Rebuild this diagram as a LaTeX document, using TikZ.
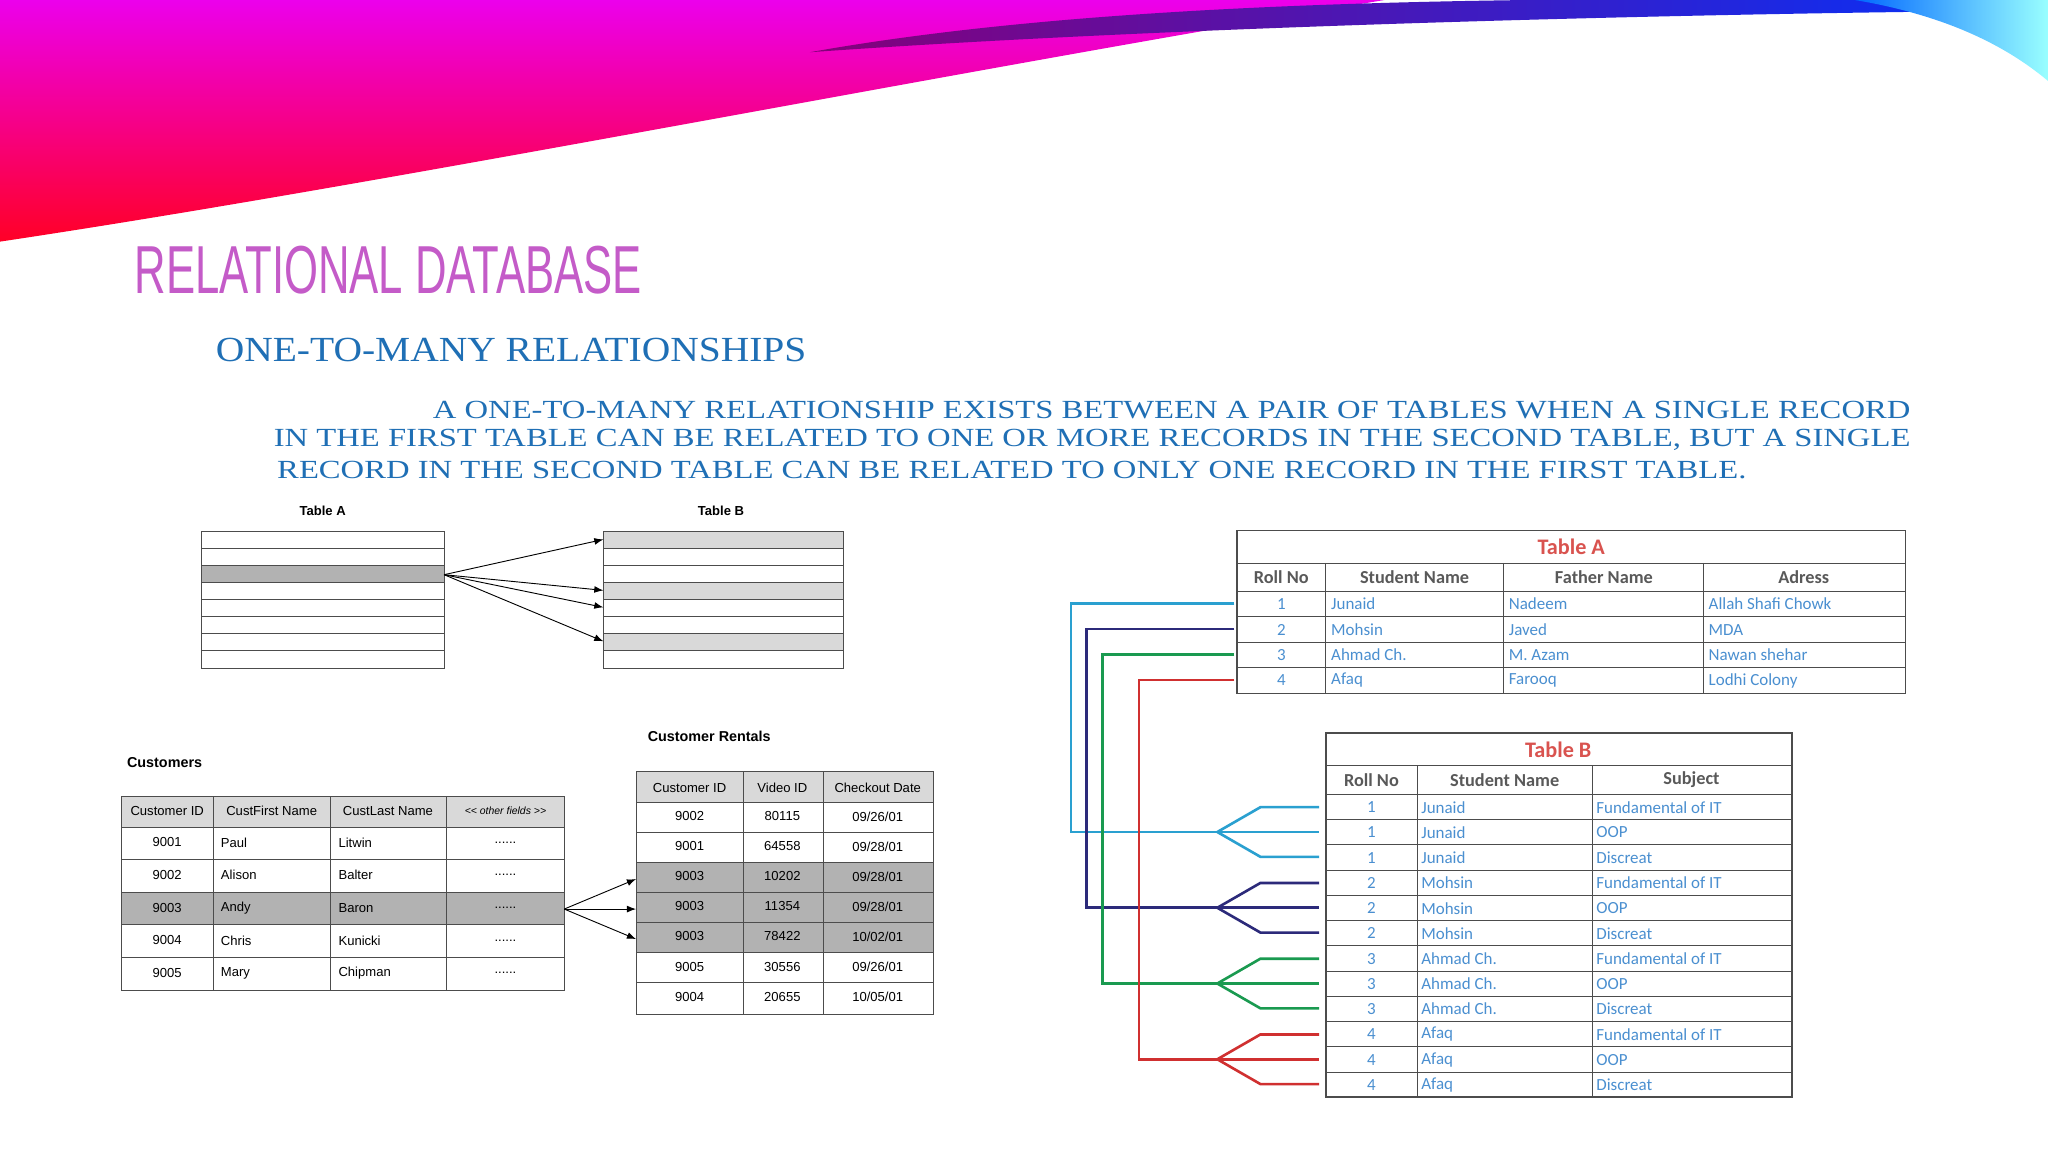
\documentclass[tikz,border=0pt]{standalone}
\usepackage{fontspec}
\setmainfont{Liberation Serif}
\newfontfamily\tabfont{Liberation Sans}
\newfontfamily\calfont{Carlito}
\usetikzlibrary{arrows.meta}
\definecolor{titlepink}{HTML}{C45BC8}
\definecolor{textblue}{HTML}{1F6FB5}
\definecolor{cellblue}{HTML}{4A8FD0}
\definecolor{headred}{HTML}{D9534F}
\definecolor{linkA}{HTML}{2AA0D0}
\definecolor{linkB}{HTML}{2C2A7A}
\definecolor{linkC}{HTML}{1A9A50}
\definecolor{linkD}{HTML}{D03030}
\tikzset{
  grid/.style={draw=black!70, line width=0.8pt},
  shade row/.style={fill=black!15},
  dark row/.style={fill=black!30},
  rel/.style={-{Latex[length=7pt]}, line width=0.7pt},
  cell/.style={font=\tabfont\fontsize{10}{12}\selectfont, inner sep=0pt},
  rcell/.style={font=\calfont\fontsize{13}{15}\selectfont, text=cellblue, inner sep=0pt, anchor=west},
  rhead/.style={font=\calfont\bfseries\fontsize{14}{16}\selectfont, text=black!65, inner sep=0pt},
  para/.style={text=textblue, inner sep=0pt, font=\fontsize{20}{22}\selectfont, xscale=1.25},
  link/.style={line width=2pt}
}
\begin{document}
\begin{tikzpicture}[x=1pt, y=-1pt]
\useasboundingbox (0,0) rectangle (1568,882);
\fill[white] (0,0) rectangle (1568,882);

% swoosh at the top
\shade[top color=magenta!85!violet, bottom color=red!85!magenta]
  (0,0) -- (1060,0) .. controls (700,60) and (300,140) .. (0,185) -- cycle;
\shade[left color=purple!70!blue, right color=blue!80!cyan]
  (620,40) .. controls (900,-10) and (1300,0) .. (1568,0) -- (1568,8)
  .. controls (1300,10) and (900,20) .. (620,40);
\shade[left color=blue!60!cyan, right color=cyan!40]
  (1420,0) -- (1568,0) -- (1568,62) .. controls (1530,30) and (1480,10) .. (1420,0);

% titles
\node[text=titlepink, anchor=west, inner sep=0pt,
  font=\tabfont\fontsize{52}{56}\selectfont, xscale=0.643] (title) at (103,207) {RELATIONAL DATABASE};
\node[text=textblue, anchor=west, inner sep=0pt,
  font=\fontsize{27}{30}\selectfont, xscale=1.12] (subtitle) at (165,268) {ONE-TO-MANY RELATIONSHIPS};
\node[para, anchor=east] (par1) at (1463,314)
  {A ONE-TO-MANY RELATIONSHIP EXISTS BETWEEN A PAIR OF TABLES WHEN A SINGLE RECORD};
\node[para, anchor=east] (par2) at (1463,337)
  {IN THE FIRST TABLE CAN BE RELATED TO ONE OR MORE RECORDS IN THE SECOND TABLE, BUT A SINGLE};
\node[para, anchor=west] (par3) at (212,360)
  {RECORD IN THE SECOND TABLE CAN BE RELATED TO ONLY ONE RECORD IN THE FIRST TABLE.};

% schematic tables
\node[font=\tabfont\bfseries\fontsize{10}{12}\selectfont] (labA) at (247,391) {Table A};
\node[font=\tabfont\bfseries\fontsize{10}{12}\selectfont] (labB) at (552,391) {Table B};
\fill[dark row] (154,433) rectangle (340,446);
\foreach \y in {407,446,485} \fill[shade row] (462,\y) rectangle (646,\y+13);
\foreach \y in {420,433,...,499} {
  \draw[black!70] (154,\y) -- (340,\y);
  \draw[black!70] (462,\y) -- (646,\y);
}
\draw[grid] (154,407) rectangle (340,512);
\draw[grid] (462,407) rectangle (646,512);
\coordinate (srcA) at (340,440);
\foreach \y in {413,452,465,491} \draw[rel] (srcA) -- (462,\y);

% Customers
\node[font=\tabfont\bfseries\fontsize{11}{13}\selectfont] (custlab) at (126,584) {Customers};
\fill[shade row] (93,610) rectangle (432,633);
\fill[dark row] (93,683) rectangle (432,708);
\foreach \y in {633,658,683,708,733} \draw[black!70] (93,\y) -- (432,\y);
\foreach \x in {163,253,342} \draw[black!70] (\x,610) -- (\x,758);
\draw[grid] (93,610) rectangle (432,758);
\node[cell] at (128,621) {Customer ID};
\node[cell] at (208,621) {CustFirst Name};
\node[cell] at (297,621) {CustLast Name};
\node[cell, font=\tabfont\itshape\fontsize{8}{10}\selectfont] at (387,621) {<< other fields >>};
\foreach \id/\fn/\ln [count=\i] in {9001/Paul/Litwin, 9002/Alison/Balter, 9003/Andy/Baron,
    9004/Chris/Kunicki, 9005/Mary/Chipman} {
  \node[cell] at (128,620+25*\i) {\id};
  \node[cell, anchor=west] at (169,620+25*\i) {\fn};
  \node[cell, anchor=west] at (259,620+25*\i) {\ln};
  \node[cell] at (387,620+25*\i) {......};
}

% Customer Rentals
\node[font=\tabfont\bfseries\fontsize{11}{13}\selectfont] (rentlab) at (543,564) {Customer Rentals};
\fill[shade row] (487,591) rectangle (715,614);
\fill[dark row] (487,660) rectangle (715,729);
\foreach \y in {614,637,660,683,706,729,752} \draw[black!70] (487,\y) -- (715,\y);
\foreach \x in {569,630} \draw[black!70] (\x,591) -- (\x,777);
\draw[grid] (487,591) rectangle (715,777);
\node[cell] at (528,603) {Customer ID};
\node[cell] at (599,603) {Video ID};
\node[cell] at (672,603) {Checkout Date};
\foreach \c/\v/\d [count=\i] in {9002/80115/{09/26/01}, 9001/64558/{09/28/01}, 9003/10202/{09/28/01},
    9003/11354/{09/28/01}, 9003/78422/{10/02/01}, 9005/30556/{09/26/01}, 9004/20655/{10/05/01}} {
  \node[cell] at (528,602+23*\i) {\c};
  \node[cell] at (599,602+23*\i) {\v};
  \node[cell] at (672,602+23*\i) {\d};
}
\coordinate (srcC) at (432,696);
\foreach \y in {673,696,719} \draw[rel] (srcC) -- (487,\y);

% right Table A
\draw[grid, line width=1.2pt] (947,406) rectangle (1459,531);
\foreach \y in {431,453,472,492,511} \draw[black!70] (947,\y) -- (1459,\y);
\foreach \x in {1015,1151,1304} \draw[black!70] (\x,431) -- (\x,531);
\node[font=\calfont\bfseries\fontsize{17}{19}\selectfont, text=headred] (tA) at (1203,419) {Table A};
\node[rhead] at (981,442) {Roll No};
\node[rhead] at (1083,442) {Student Name};
\node[rhead] at (1228,442) {Father Name};
\node[rhead] at (1381,442) {Adress};
\foreach \s/\f/\a [count=\i] in {Junaid/Nadeem/Allah Shafi Chowk, Mohsin/Javed/MDA,
    Ahmad Ch./M. Azam/Nawan shehar, Afaq/Farooq/Lodhi Colony} {
  \node[rcell, anchor=center] at (981,443+19.5*\i) {\i};
  \node[rcell] at (1019,443+19.5*\i) {\s};
  \node[rcell] at (1155,443+19.5*\i) {\f};
  \node[rcell] at (1308,443+19.5*\i) {\a};
}

% right Table B
\draw[grid, line width=1.2pt] (1015,561) rectangle (1372,840);
\draw[black!70] (1015,586) -- (1372,586);
\foreach \i in {0,...,11} \draw[black!70] (1015,608+19.33*\i) -- (1372,608+19.33*\i);
\foreach \x in {1085,1219} \draw[black!70] (\x,586) -- (\x,840);
\node[font=\calfont\bfseries\fontsize{17}{19}\selectfont, text=headred] (tB) at (1193,574) {Table B};
\node[rhead] at (1050,597) {Roll No};
\node[rhead] at (1152,597) {Student Name};
\node[rhead] at (1295,597) {Subject};
\foreach \r/\s [count=\g from 0] in {1/Junaid, 2/Mohsin, 3/Ahmad Ch., 4/Afaq} {
  \foreach \sub [count=\k from 0] in {Fundamental of IT, OOP, Discreat} {
    \pgfmathsetmacro{\yy}{618+19.33*(3*\g+\k)}
    \node[rcell, anchor=center] at (1050,\yy) {\r};
    \node[rcell] at (1088,\yy) {\s};
    \node[rcell] at (1222,\yy) {\sub};
  }
}

% links between the two tables
\foreach \c/\xv [count=\g from 0] in {linkA/820, linkB/832, linkC/844, linkD/872} {
  \pgfmathsetmacro{\ya}{462+19.5*\g}
  \pgfmathsetmacro{\ym}{637+58*\g}
  \draw[link, \c] (945,\ya) -- (\xv,\ya) -- (\xv,\ym) -- (932,\ym);
  \draw[link, \c] (932,\ym) -- (965,\ym-19) -- (1010,\ym-19);
  \draw[link, \c] (932,\ym) -- (1010,\ym);
  \draw[link, \c] (932,\ym) -- (965,\ym+19) -- (1010,\ym+19);
}
\end{tikzpicture}
\end{document}
